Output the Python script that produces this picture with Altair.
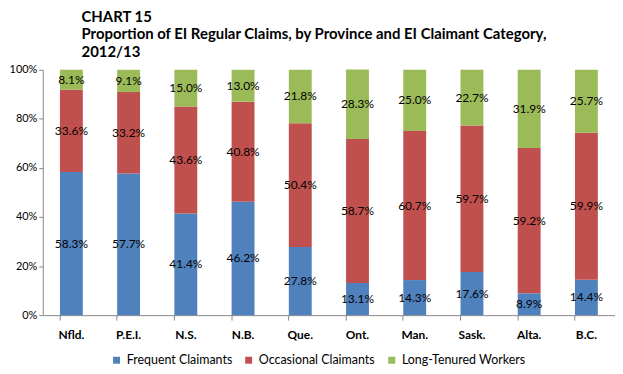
import altair as alt
import pandas as pd

provinces = ["Nfld.", "P.E.I.", "N.S.", "N.B.", "Que.", "Ont.", "Man.", "Sask.", "Alta.", "B.C."]
categories = ["Frequent Claimants", "Occasional Claimants", "Long-Tenured Workers"]
frequent = [58.3, 57.7, 41.4, 46.2, 27.8, 13.1, 14.3, 17.6, 8.9, 14.4]
occasional = [33.6, 33.2, 43.6, 40.8, 50.4, 58.7, 60.7, 59.7, 59.2, 59.9]
long_tenured = [8.1, 9.1, 15.0, 13.0, 21.8, 28.3, 25.0, 22.7, 31.9, 25.7]
colors = ["#4F81BD", "#C0504D", "#9BBB59"]

rows = []
for i, p in enumerate(provinces):
    for j, (cat, vals) in enumerate(zip(categories, [frequent, occasional, long_tenured])):
        rows.append({"province": p, "category": cat, "idx": j, "value": vals[i]})
df = pd.DataFrame(rows)

FONT = "Lato"

base = alt.Chart(df).transform_stack(
    stack="value", groupby=["province"], sort=[alt.SortField("idx", order="ascending")],
    as_=["v0", "v1"]
).transform_calculate(
    mid="(datum.v0 + datum.v1) / 2",
    label="format(datum.value, '.1f') + '%'"
)

x_enc = alt.X("province:N", sort=provinces, title=None,
              scale=alt.Scale(paddingInner=0.6, paddingOuter=0.3),
              axis=alt.Axis(labelAngle=0, labelFont=FONT, labelFontSize=12, labelFontWeight="bold",
                            labelColor="#000000", labelPadding=9, bandPosition=0,
                            domainColor="#868686", tickColor="#868686", tickSize=5, ticks=True))

bars = base.mark_bar().encode(
    x=x_enc,
    y=alt.Y("v0:Q", title=None, scale=alt.Scale(domain=[0, 100], nice=False),
            axis=alt.Axis(values=[0, 20, 40, 60, 80, 100], labelExpr="datum.value + '%'",
                          grid=False, labelFont=FONT, labelFontSize=11, labelColor="#000000",
                          domainColor="#868686", tickColor="#868686", tickSize=4, labelPadding=2)),
    y2="v1:Q",
    color=alt.Color("category:N", scale=alt.Scale(domain=categories, range=colors),
                    legend=alt.Legend(title=None, orient="none", direction="horizontal",
                                      legendX=68, legendY=286, padding=0, symbolType="square",
                                      symbolSize=49, symbolStrokeWidth=0, labelFont=FONT,
                                      labelFontSize=12.5, labelColor="#000000", columnPadding=10,
                                      labelOffset=4)),
)

texts = base.mark_text(font=FONT, fontSize=12, color="#000000").encode(
    x=alt.X("province:N", sort=provinces),
    y=alt.Y("mid:Q"),
    text="label:N",
)

chart = alt.layer(bars, texts).properties(
    width=576, height=247,
    autosize=alt.AutoSizeParams(type="none"),
    padding={"left": 35, "top": 61, "right": 0, "bottom": 50},
    title=alt.TitleParams(
        text=["CHART 15", "Proportion of EI Regular Claims, by Province and EI Claimant Category,", "2012/13"],
        anchor="start", dx=39, font=FONT, fontSize=15, fontWeight="bold", color="#000000",
        lineHeight=17.5, offset=4, frame="group"),
).configure_view(stroke=None)

chart.save("out.html", embed_options={"renderer": "svg", "actions": False})
